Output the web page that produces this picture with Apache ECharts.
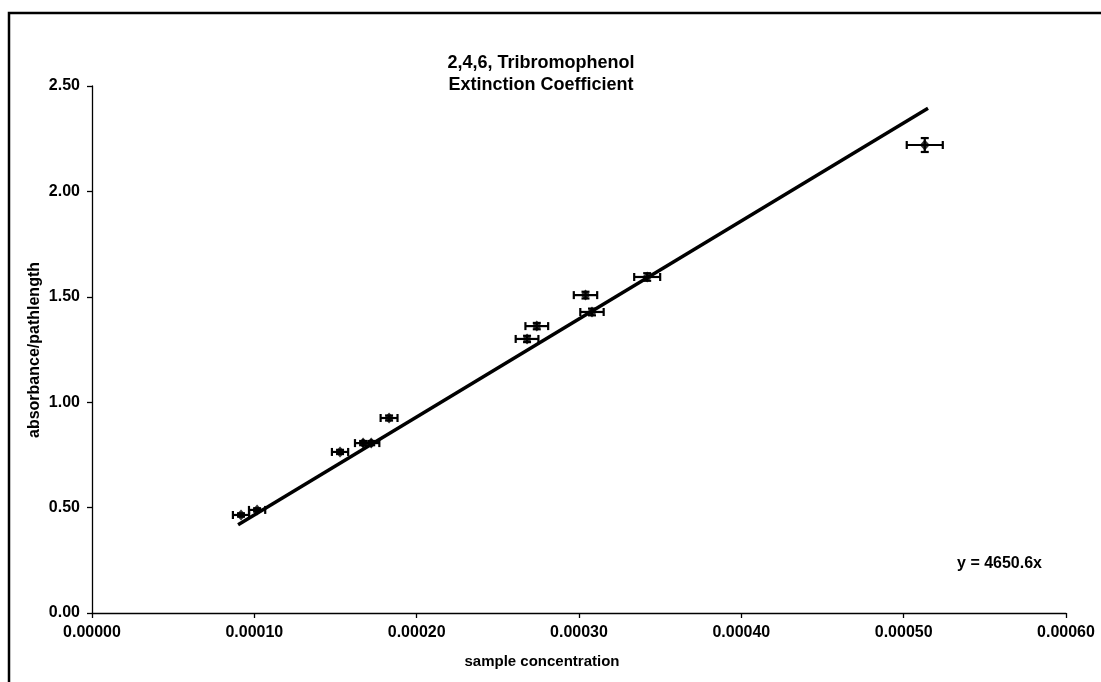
<!DOCTYPE html>
<html><head><meta charset="utf-8">
<script src="https://cdn.jsdelivr.net/npm/echarts@6/dist/echarts.min.js"></script>
<style>html,body{margin:0;padding:0;background:#fff}#c{width:1101px;height:682px}</style>
</head><body><div id="c"></div>
<script>
const titleLines = ['2,4,6, Tribromophenol', 'Extinction Coefficient'];
const xName = 'sample concentration';
const yName = 'absorbance/pathlength';
const equation = 'y = 4650.6x';
// measured points
const concX = [0.0000918, 0.0001017, 0.0001528, 0.0001670, 0.0001720, 0.0001830, 0.0002680, 0.0002740, 0.0003040, 0.0003080, 0.0003420, 0.0005130];
const absY  = [0.465, 0.489, 0.764, 0.806, 0.806, 0.925, 1.300, 1.361, 1.508, 1.428, 1.594, 2.220];
const errX  = [0.0000050, 0.0000050, 0.0000050, 0.0000050, 0.0000050, 0.0000052, 0.0000070, 0.0000070, 0.0000072, 0.0000072, 0.0000080, 0.0000111];
const errY  = [0.008, 0.008, 0.010, 0.010, 0.010, 0.012, 0.015, 0.015, 0.016, 0.016, 0.018, 0.033];
// fit line endpoints
const fitX = [0.00009, 0.000515];
const fitY = [0.419, 2.395];
const xTicks = ['0.00000','0.00010','0.00020','0.00030','0.00040','0.00050','0.00060'];
const yTicks = ['0.00','0.50','1.00','1.50','2.00','2.50'];

const FONT = '"Liberation Sans", Arial, sans-serif';
const chart = echarts.init(document.getElementById('c'), null, {renderer:'canvas'});

const pts = concX.map((x,i)=>[x, absY[i], errX[i], errY[i]]);
const fit = fitX.map((x,i)=>[x, fitY[i]]);

chart.setOption({
  backgroundColor:'#fff',
  animation:false,
  grid:{left:92, right:35, top:86, bottom:69, containLabel:false},
  xAxis:{type:'value', min:0, max:0.0006, interval:0.0001,
    axisLine:{show:true, onZero:false, lineStyle:{color:'#000', width:1.3}},
    axisTick:{show:true, length:5, lineStyle:{color:'#000', width:1.3}},
    splitLine:{show:false},
    axisLabel:{color:'#000', fontFamily:FONT, fontWeight:'bold', fontSize:16, margin:12,
      formatter:(v)=>xTicks[Math.round(v/0.0001)]}},
  yAxis:{type:'value', min:0, max:2.5, interval:0.5,
    axisLine:{show:true, onZero:false, lineStyle:{color:'#000', width:1.3}},
    axisTick:{show:true, length:5, lineStyle:{color:'#000', width:1.3}},
    splitLine:{show:false},
    axisLabel:{color:'#000', fontFamily:FONT, fontWeight:'bold', fontSize:16, margin:12,
      formatter:(v)=>yTicks[Math.round(v/0.5)]}},
  series:[
    {type:'line', data:fit, showSymbol:false, symbol:'none', lineStyle:{color:'#000', width:3.5}, z:2},
    {type:'custom', data:pts, z:3,
      renderItem:function(params, api){
        const x=api.value(0), y=api.value(1), ex=api.value(2), ey=api.value(3);
        const l=api.coord([x-ex,y]), r=api.coord([x+ex,y]);
        const t=api.coord([x,y+ey]), b=api.coord([x,y-ey]);
        const st={stroke:'#000', lineWidth:2.2};
        const cap=4;
        return {type:'group', children:[
          {type:'line', shape:{x1:l[0],y1:l[1],x2:r[0],y2:r[1]}, style:st},
          {type:'line', shape:{x1:l[0],y1:l[1]-cap,x2:l[0],y2:l[1]+cap}, style:st},
          {type:'line', shape:{x1:r[0],y1:r[1]-cap,x2:r[0],y2:r[1]+cap}, style:st},
          {type:'line', shape:{x1:t[0],y1:t[1],x2:b[0],y2:b[1]}, style:st},
          {type:'line', shape:{x1:t[0]-cap,y1:t[1],x2:t[0]+cap,y2:t[1]}, style:st},
          {type:'line', shape:{x1:b[0]-cap,y1:b[1],x2:b[0]+cap,y2:b[1]}, style:st}
        ]};
      }},
    {type:'scatter', data:pts.map(p=>[p[0],p[1]]), symbol:'diamond', symbolSize:[10,11],
      itemStyle:{color:'#000'}, z:4}
  ],
  graphic:[
    {type:'rect', shape:{x:9, y:13, width:1120, height:720}, style:{fill:null, stroke:'#000', lineWidth:2.5}, silent:true},
    {type:'text', x:541, y:52, style:{text:titleLines.join('\n'), font:'bold 18px '+FONT, fill:'#000', textAlign:'center', lineHeight:22}},
    {type:'text', x:542, y:662, style:{text:xName, font:'bold 15px '+FONT, fill:'#000', textAlign:'center', textVerticalAlign:'middle'}},
    {type:'text', x:35, y:350, rotation:Math.PI/2, style:{text:yName, font:'bold 16px '+FONT, fill:'#000', textAlign:'center', textVerticalAlign:'middle'}},
    {type:'text', x:1042, y:564, style:{text:equation, font:'bold 16px '+FONT, fill:'#000', textAlign:'right', textVerticalAlign:'middle'}}
  ]
});
</script></body></html>
